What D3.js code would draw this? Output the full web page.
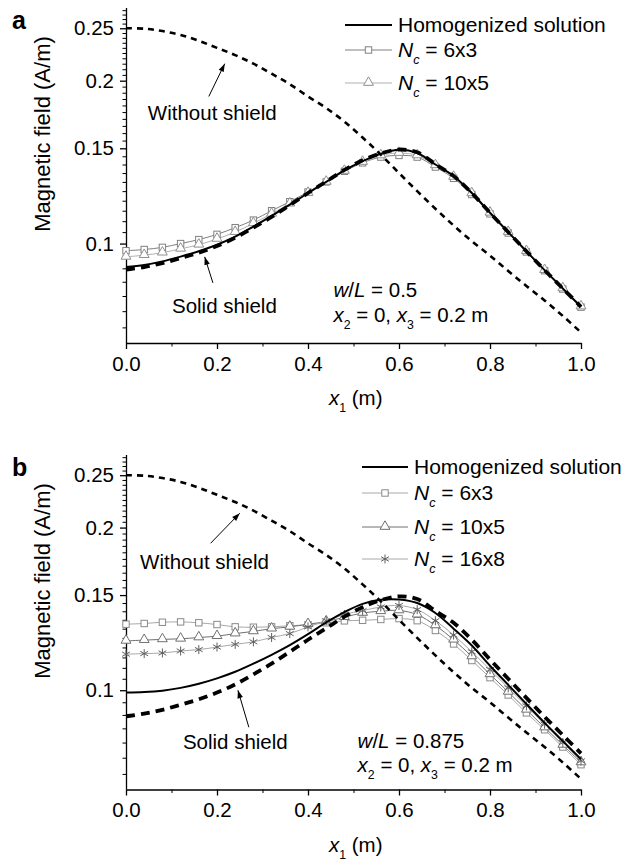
<!DOCTYPE html>
<html>
<head>
<meta charset="utf-8">
<script src="https://cdn.jsdelivr.net/npm/d3@7"></script>
<style>
    body { margin: 0; background: #fff; }
    svg text { font-family: "Liberation Sans", Arial, sans-serif; fill: #000; }
</style>
</head>
<body>
<svg id="chart" width="623" height="861"></svg>
<script>
// x positions (m) shared by every curve
const xGrid = [0, 0.04, 0.08, 0.12, 0.16, 0.20, 0.24, 0.28, 0.32, 0.36, 0.40, 0.44, 0.48,
    0.52, 0.56, 0.60, 0.64, 0.68, 0.72, 0.76, 0.80, 0.84, 0.88, 0.92, 0.96, 1.00];

// same in both panels
const withoutShield = [0.250, 0.2495, 0.247, 0.243, 0.237, 0.230, 0.223, 0.215, 0.206, 0.197, 0.187, 0.178, 0.168,
    0.157, 0.146, 0.135, 0.125, 0.116, 0.108, 0.101, 0.0950, 0.0890, 0.0835, 0.0785, 0.0735, 0.0685];
const solidShield = [0.0895, 0.0905, 0.0920, 0.0940, 0.0962, 0.0990, 0.1025, 0.1070, 0.1120, 0.1178, 0.1240, 0.1302, 0.1368,
    0.1425, 0.1468, 0.1492, 0.1475, 0.1402, 0.1333, 0.1240, 0.1140, 0.1050, 0.0968, 0.0893, 0.0826, 0.0764];

// panel a (w/L = 0.5)
const homogA = [0.0905, 0.0913, 0.0927, 0.0946, 0.0968, 0.0995, 0.1030, 0.1075, 0.1125, 0.1180, 0.1240, 0.1300, 0.1365,
    0.1420, 0.1465, 0.1490, 0.1470, 0.1400, 0.1333, 0.1240, 0.1140, 0.1050, 0.0968, 0.0893, 0.0826, 0.0764];
const nc6x3A = [0.0970, 0.0975, 0.0984, 0.1000, 0.1017, 0.1040, 0.1070, 0.1105, 0.1150, 0.1195, 0.1245, 0.1300, 0.1360,
    0.1410, 0.1445, 0.1455, 0.1445, 0.1385, 0.1320, 0.1232, 0.1135, 0.1046, 0.0965, 0.0891, 0.0824, 0.0763];
const nc10x5A = [0.0945, 0.0952, 0.0962, 0.0978, 0.0995, 0.1020, 0.1050, 0.1090, 0.1135, 0.1185, 0.1240, 0.1300, 0.1362,
    0.1415, 0.1455, 0.1470, 0.1455, 0.1395, 0.1328, 0.1238, 0.1140, 0.1050, 0.0968, 0.0893, 0.0826, 0.0765];

// panel b (w/L = 0.875)
const homogB = [0.0990, 0.0992, 0.0998, 0.1010, 0.1028, 0.1052, 0.1082, 0.1120, 0.1163, 0.1212, 0.1270, 0.1335, 0.1395,
    0.1445, 0.1470, 0.1472, 0.1450, 0.1390, 0.1300, 0.1210, 0.1110, 0.1023, 0.0943, 0.0870, 0.0805, 0.0745];
const nc6x3B = [0.1325, 0.1329, 0.1336, 0.1338, 0.1333, 0.1323, 0.1310, 0.1308, 0.1310, 0.1316, 0.1322, 0.1333, 0.1344,
    0.1347, 0.1352, 0.1357, 0.1345, 0.1290, 0.1218, 0.1135, 0.1055, 0.0980, 0.0908, 0.0845, 0.0785, 0.0728];
const nc10x5B = [0.1234, 0.1238, 0.1242, 0.1245, 0.1252, 0.1259, 0.1273, 0.1285, 0.1300, 0.1310, 0.1325, 0.1340, 0.1365,
    0.1390, 0.1400, 0.1405, 0.1380, 0.1318, 0.1240, 0.1155, 0.1070, 0.0993, 0.0920, 0.0853, 0.0792, 0.0735];
const nc16x8B = [0.1166, 0.1169, 0.1172, 0.1182, 0.1189, 0.1202, 0.1216, 0.1229, 0.1252, 0.1273, 0.1310, 0.1345, 0.1381,
    0.1404, 0.1426, 0.1435, 0.1410, 0.1345, 0.1265, 0.1178, 0.1092, 0.1010, 0.0935, 0.0865, 0.0800, 0.0740];

const xTicks = [0, 0.2, 0.4, 0.6, 0.8, 1.0];
const xMinorTicks = [0.1, 0.3, 0.5, 0.7, 0.9];
const yTicks = [0.1, 0.15, 0.2, 0.25];

const font = "Liberation Sans, Arial, sans-serif";
const textSize = 20.5;
const svg = d3.select("#chart");

var x = d3.scaleLinear().domain([0, 1]).range([126, 581]);

// star (asterisk) marker: vertical bar and two diagonals
function starPath(r) {
    let dx = r * Math.cos(Math.PI / 6), dy = r * Math.sin(Math.PI / 6);
    return "M0," + (-r) + "L0," + r +
        "M" + (-dx) + "," + (-dy) + "L" + dx + "," + dy +
        "M" + (-dx) + "," + dy + "L" + dx + "," + (-dy);
}

function drawMarker(g, type, cx, cy, color) {
    if (type === "square") {
        g.append("rect").attr("x", cx - 3.2).attr("y", cy - 3.2).attr("width", 6.4).attr("height", 6.4)
            .attr("fill", "#fff").attr("stroke", color).attr("stroke-width", 1);
    } else if (type === "triangle") {
        g.append("path").attr("d", d3.symbol(d3.symbolTriangle, 42)())
            .attr("transform", "translate(" + cx + "," + (cy - 0.5) + ")")
            .attr("fill", "#fff").attr("stroke", color).attr("stroke-width", 1);
    } else if (type === "star") {
        g.append("path").attr("d", starPath(4.5))
            .attr("transform", "translate(" + cx + "," + cy + ")")
            .attr("fill", "none").attr("stroke", color).attr("stroke-width", 1);
    }
}

// text with italic / subscript pieces
function richText(g, tx, ty, parts, size) {
    let t = g.append("text").attr("x", tx).attr("y", ty).style("font-size", size + "px");
    let shift = 0;
    parts.forEach(p => {
        let s = t.append("tspan").text(p.t);
        if (p.it) s.style("font-style", "italic");
        let target = p.sub ? 7 : 0;
        if (target !== shift) { s.attr("dy", target - shift); shift = target; }
        if (p.sub) s.style("font-size", (size * 0.6) + "px");
    });
    return t;
}

function drawArrow(g, x1, y1, x2, y2) {
    g.append("line").attr("x1", x1).attr("y1", y1).attr("x2", x2).attr("y2", y2)
        .attr("stroke", "#000").attr("stroke-width", 1);
    let ang = Math.atan2(y2 - y1, x2 - x1), L = 8, W = 2.8;
    let bx = x2 - L * Math.cos(ang), by = y2 - L * Math.sin(ang);
    let px = -Math.sin(ang) * W, py = Math.cos(ang) * W;
    g.append("path")
        .attr("d", "M" + x2 + "," + y2 + "L" + (bx + px) + "," + (by + py) + "L" + (bx - px) + "," + (by - py) + "Z")
        .attr("fill", "#000");
}

function drawPanel(cfg) {
    var g = svg.append("g");
    var y = d3.scaleLog().domain([0.0655, 0.2725]).range([cfg.bottom, cfg.top]);

    // minor ticks every 0.005
    let yMinor = d3.range(14, 55).filter(i => i % 10 !== 0).map(i => i * 0.005);
    g.append("g").attr("transform", "translate(" + x(0) + ",0)")
        .call(d3.axisLeft(y).tickValues(yMinor).tickFormat("").tickSize(3.5).tickSizeOuter(0))
        .call(a => a.select(".domain").remove())
        .selectAll("line").attr("stroke", "#000").attr("stroke-width", 1);
    var yAxis = g.append("g").attr("transform", "translate(" + x(0) + ",0)")
        .call(d3.axisLeft(y).tickValues(yTicks).tickFormat(d => String(d)).tickSize(6).tickSizeOuter(0).tickPadding(6));
    yAxis.select(".domain").attr("stroke-width", 1.3).attr("d", "M0.5," + cfg.top + "V" + cfg.bottom);
    yAxis.selectAll("line").attr("stroke-width", 1.3);
    yAxis.selectAll("text").style("font-size", textSize + "px").style("font-family", font);

    g.append("g").attr("transform", "translate(0," + cfg.bottom + ")")
        .call(d3.axisBottom(x).tickValues(xMinorTicks).tickFormat("").tickSize(3.5).tickSizeOuter(0))
        .call(a => a.select(".domain").remove())
        .selectAll("line").attr("stroke-width", 1);
    var xAxis = g.append("g").attr("transform", "translate(0," + cfg.bottom + ")")
        .call(d3.axisBottom(x).tickValues(xTicks).tickFormat(d3.format(".1f")).tickSize(6).tickSizeOuter(0).tickPadding(7));
    xAxis.select(".domain").attr("stroke-width", 1.3);
    xAxis.selectAll("line").attr("stroke-width", 1.3);
    xAxis.selectAll("text").style("font-size", textSize + "px").style("font-family", font);

    // axis titles
    g.append("text")
        .attr("transform", "translate(50," + (cfg.top + 126) + ") rotate(-90)")
        .attr("text-anchor", "middle").style("font-size", "22px")
        .text("Magnetic field (A/m)");
    richText(g, 329, cfg.bottom + 62, [{ t: "x", it: true }, { t: "1", sub: true }, { t: " (m)" }], textSize);

    g.append("text").attr("x", 12).attr("y", cfg.top + 21)
        .style("font-size", "25px").style("font-weight", "bold").text(cfg.label);

    var line = d3.line().x((d, i) => x(xGrid[i])).y(d => y(d)).curve(d3.curveCatmullRom.alpha(0.5));

    // cell solutions: thin gray lines with open markers
    cfg.cells.forEach(s => {
        g.append("path").attr("d", line(s.values)).attr("fill", "none")
            .attr("stroke", s.lineColor).attr("stroke-width", 1);
    });
    cfg.cells.forEach(s => {
        s.values.forEach((v, i) => drawMarker(g, s.marker, x(xGrid[i]), y(v), s.markerColor));
    });

    g.append("path").attr("d", line(solidShield)).attr("fill", "none")
        .attr("stroke", "#000").attr("stroke-width", 3.8).attr("stroke-dasharray", "9,6");
    g.append("path").attr("d", line(cfg.homog)).attr("fill", "none")
        .attr("stroke", "#000").attr("stroke-width", 2);
    g.append("path").attr("d", line(withoutShield)).attr("fill", "none")
        .attr("stroke", "#000").attr("stroke-width", 2.6).attr("stroke-dasharray", "6,5");

    // annotations
    let an = cfg.notes;
    g.append("text").attr("x", x(an.without[0])).attr("y", y(an.without[1]))
        .style("font-size", textSize + "px").text("Without shield");
    drawArrow(g, x(an.withoutArrow[0]), y(an.withoutArrow[1]), x(an.withoutArrow[2]), y(an.withoutArrow[3]));
    g.append("text").attr("x", x(an.solid[0])).attr("y", y(an.solid[1]))
        .style("font-size", textSize + "px").text("Solid shield");
    drawArrow(g, x(an.solidArrow[0]), y(an.solidArrow[1]), x(an.solidArrow[2]), y(an.solidArrow[3]));
    richText(g, x(an.params[0]), y(an.params[1]),
        [{ t: "w", it: true }, { t: "/" }, { t: "L", it: true }, { t: " = " + cfg.ratio }], textSize);
    richText(g, x(an.params[0]), y(an.params[2]),
        [{ t: "x", it: true }, { t: "2", sub: true }, { t: " = 0, " }, { t: "x", it: true }, { t: "3", sub: true }, { t: " = 0.2 m" }], textSize);

    // legend
    let lg = cfg.legend;
    g.append("line").attr("x1", lg.x1).attr("x2", lg.x2).attr("y1", lg.rows[0]).attr("y2", lg.rows[0])
        .attr("stroke", "#000").attr("stroke-width", 2);
    g.append("text").attr("x", lg.x2 + 6).attr("y", lg.rows[0] + 7).style("font-size", "21px").text("Homogenized solution");
    cfg.cells.forEach((s, k) => {
        let ry = lg.rows[k + 1];
        g.append("line").attr("x1", lg.x1).attr("x2", lg.x2).attr("y1", ry).attr("y2", ry)
            .attr("stroke", s.lineColor).attr("stroke-width", 1);
        drawMarker(g, s.marker, (lg.x1 + lg.x2) / 2, ry, s.markerColor);
        richText(g, lg.x2 + 6, ry + 7, [{ t: "N", it: true }, { t: "c", it: true, sub: true }, { t: " = " + s.name }], 21);
    });
}

drawPanel({
    label: "a", top: 8, bottom: 343, ratio: "0.5",
    homog: homogA,
    cells: [
        { name: "6x3", values: nc6x3A, marker: "square", lineColor: "#808080", markerColor: "#808080" },
        { name: "10x5", values: nc10x5A, marker: "triangle", lineColor: "#b0b0b0", markerColor: "#909090" }
    ],
    notes: {
        without: [0.048, 0.169], withoutArrow: [0.182, 0.187, 0.217, 0.215],
        solid: [0.101, 0.0744], solidArrow: [0.191, 0.0846, 0.173, 0.0945],
        params: [0.456, 0.0797, 0.0716]
    },
    legend: { x1: 345, x2: 392, rows: [25, 50, 83] }
});

drawPanel({
    label: "b", top: 455, bottom: 789.5, ratio: "0.875",
    homog: homogB,
    cells: [
        { name: "6x3", values: nc6x3B, marker: "square", lineColor: "#a8a8a8", markerColor: "#8a8a8a" },
        { name: "10x5", values: nc10x5B, marker: "triangle", lineColor: "#707070", markerColor: "#707070" },
        { name: "16x8", values: nc16x8B, marker: "star", lineColor: "#a8a8a8", markerColor: "#606060" }
    ],
    notes: {
        without: [0.031, 0.1675], withoutArrow: [0.186, 0.1871, 0.25, 0.2126],
        solid: [0.125, 0.0778], solidArrow: [0.27, 0.0854, 0.246, 0.1000],
        params: [0.509, 0.0781, 0.0705]
    },
    legend: { x1: 362, x2: 408, rows: [467, 493, 527, 559] }
});
</script>
</body>
</html>
